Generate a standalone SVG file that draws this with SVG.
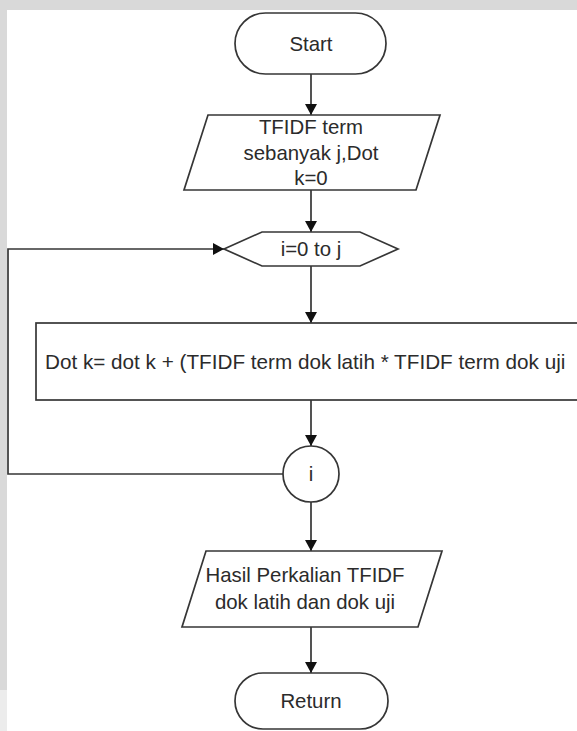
<svg xmlns="http://www.w3.org/2000/svg" width="577" height="731" viewBox="0 0 577 731">
  <style>
    .shape { fill: #ffffff; stroke: #363636; stroke-width: 1.7; }
    .conn { fill: none; stroke: #363636; stroke-width: 1.7; }
    .label { font-family: "Liberation Sans", Arial, sans-serif; font-size: 20.4px; fill: #2b2b2b; text-anchor: middle; dominant-baseline: central; }
    .left { text-anchor: start; font-size: 20.7px; }
  </style>
  <defs>
    <marker id="arrow" markerUnits="userSpaceOnUse" markerWidth="11" markerHeight="12" refX="11" refY="6" orient="auto">
      <path d="M0,0 L11,6 L0,12 Z" fill="#111111"/>
    </marker>
  </defs>

  <!-- page frame -->
  <rect x="0" y="0" width="577" height="731" fill="#ffffff"/>
  <rect x="0" y="0" width="577" height="10" fill="#d9d9d9"/>
  <rect x="0" y="0" width="7" height="690" fill="#d9d9d9"/>
  <rect x="0" y="690" width="7" height="41" fill="#ececec"/>

  <!-- connectors -->
  <g id="connectors">
    <path class="conn" d="M311,74 V115" marker-end="url(#arrow)"/>
    <path class="conn" d="M311,190 V232" marker-end="url(#arrow)"/>
    <path class="conn" d="M311,266 V323" marker-end="url(#arrow)"/>
    <path class="conn" d="M311,400 V446" marker-end="url(#arrow)"/>
    <path class="conn" d="M311,502 V551" marker-end="url(#arrow)"/>
    <path class="conn" d="M311,627 V673" marker-end="url(#arrow)"/>
    <path class="conn" d="M284,474 H8 V249 H224" marker-end="url(#arrow)"/>
  </g>

  <g id="start">
    <rect class="shape" x="235" y="13" width="151" height="61" rx="30.5"/>
    <text class="label" x="311" y="44">Start</text>
  </g>

  <g id="input-tfidf">
    <polygon class="shape" points="208,115 440,115 416,190 184,190"/>
    <text class="label" x="311" y="127">TFIDF term</text>
    <text class="label" x="311" y="153">sebanyak j,Dot</text>
    <text class="label" x="311" y="178">k=0</text>
  </g>

  <g id="loop-start">
    <polygon class="shape" points="224,249 262,232 360,232 398,249 360,266 262,266"/>
    <text class="label" x="311" y="249">i=0 to j</text>
  </g>

  <g id="dot-process">
    <rect class="shape" x="36" y="323" width="570" height="77"/>
    <text class="label left" x="45" y="361">Dot k= dot k + (TFIDF term dok latih * TFIDF term dok uji</text>
  </g>

  <g id="loop-end">
    <circle class="shape" cx="311" cy="474" r="28"/>
    <text class="label" x="311" y="474">i</text>
  </g>

  <g id="output-result">
    <polygon class="shape" points="206,551 442,551 418,627 182,627"/>
    <text class="label" x="305" y="575">Hasil Perkalian TFIDF</text>
    <text class="label" x="305" y="602">dok latih dan dok uji</text>
  </g>

  <g id="return">
    <rect class="shape" x="235" y="673" width="153" height="56" rx="28"/>
    <text class="label" x="311" y="701">Return</text>
  </g>
</svg>
